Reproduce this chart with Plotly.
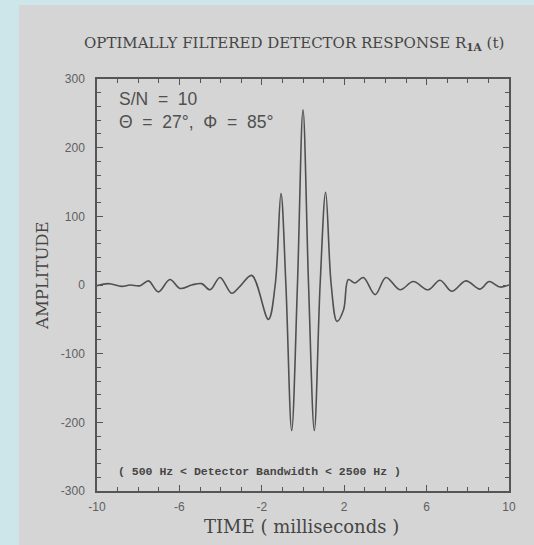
import plotly.graph_objects as go

# --- data ---
time_ms = [-10, -9.45, -8.8, -8.4, -7.9, -7.5, -7.02, -6.46, -5.97, -5.4, -4.92, -4.51,
           -4.03, -3.46, -3.06, -2.49, -1.68, -1.35, -1.07, -0.83, -0.55, -0.27, 0.0,
           0.27, 0.55, 0.83, 1.1, 1.37, 1.65, 1.97, 2.2, 2.52, 2.93, 3.5, 4.03, 4.71,
           5.35, 6.08, 6.65, 7.22, 7.91, 8.59, 9.04, 9.56, 10]
amplitude = [-1, 2, -2, 0, -1, 6, -10, 8, -5, 0, 2, -7,
             11, -12, -2, 14, -50, 0, 133, 0, -212, 0, 255,
             0, -212, 0, 135, 0, -53, -36, 8, 3, 11, -14, 11, -7,
             5, -7, 7, -9, 6, -6, 5, -3, 0]

x_tickvals = [-10, -6, -2, 2, 6, 10]
y_tickvals = [-300, -200, -100, 0, 100, 200, 300]

title_text = "OPTIMALLY FILTERED DETECTOR RESPONSE R<sub><b>1A</b></sub> (t)"
xlabel = "TIME ( milliseconds )"
ylabel = "AMPLITUDE"
note1 = "S/N\u00a0\u00a0=\u00a0\u00a010"
note2 = "\u0398\u00a0\u00a0=\u00a0\u00a027\u00b0,\u00a0\u00a0\u03a6\u00a0\u00a0=\u00a0\u00a085\u00b0"
note3 = "(\u00a0500\u00a0Hz\u00a0<\u00a0Detector\u00a0Bandwidth\u00a0<\u00a02500\u00a0Hz\u00a0)"

W, H = 534, 545
L, R, T, B = 97, 25, 79, 54
PW = W - L - R
PH = H - T - B

def px(x):
    return (x - L) / PW

def py(y):
    return (H - B - y) / PH

fig = go.Figure()
fig.add_trace(go.Scatter(x=time_ms, y=amplitude, mode="lines",
                         line=dict(color="#505050", width=1.6, shape="spline", smoothing=1.0),
                         hoverinfo="skip", showlegend=False))

axis_common = dict(showgrid=False, zeroline=False, showline=True, linecolor="#555555",
                   linewidth=1.5, ticks="inside", tickcolor="#555555", tickwidth=1.3,
                   ticklen=6, mirror="ticks",
                   tickfont=dict(family="Liberation Sans", size=12, color="#606060"))

fig.update_xaxes(range=[-10, 10], tickvals=x_tickvals, ticktext=[str(v) for v in x_tickvals],
                 ticklabelstandoff=4,
                 minor=dict(dtick=1, tick0=-10, ticks="inside", ticklen=4,
                            tickcolor="#555555", tickwidth=1.2),
                 **axis_common)
fig.update_yaxes(range=[-300, 300], tickvals=y_tickvals, ticktext=[str(v) for v in y_tickvals],
                 ticklabelstandoff=8,
                 minor=dict(dtick=20, tick0=0, ticks="inside", ticklen=4,
                            tickcolor="#555555", tickwidth=1.2),
                 **axis_common)

fig.add_shape(type="rect", xref="paper", yref="paper", layer="below",
              x0=px(19), x1=px(W + 5), y0=py(H + 5), y1=py(5),
              fillcolor="#d5d5d5", line=dict(width=0))

ann = []
ann.append(dict(text=title_text, x=px(294), y=py(44), xanchor="center", yanchor="middle",
                font=dict(family="DejaVu Serif", size=15, color="#454545")))
ann.append(dict(text=ylabel, x=px(42), y=py(276), xanchor="center", yanchor="middle",
                textangle=-90, font=dict(family="DejaVu Serif", size=16.5, color="#454545")))
ann.append(dict(text=xlabel, x=px(301), y=py(526), xanchor="center", yanchor="middle",
                font=dict(family="DejaVu Serif", size=18, color="#454545")))
ann.append(dict(text=note1, x=px(117), y=py(99), xanchor="left", yanchor="middle",
                font=dict(family="Liberation Sans", size=17.5, color="#505050")))
ann.append(dict(text=note2, x=px(117), y=py(122), xanchor="left", yanchor="middle",
                font=dict(family="Liberation Sans", size=17.5, color="#505050")))
ann.append(dict(text="<b>" + note3 + "</b>", x=px(116), y=py(471), xanchor="left", yanchor="middle",
                font=dict(family="Liberation Mono", size=11.5, color="#454545")))
for a in ann:
    a.update(xref="paper", yref="paper", showarrow=False)
fig.update_layout(annotations=ann)

fig.update_layout(width=W, height=H, margin=dict(l=L, r=R, t=T, b=B),
                  paper_bgcolor="#cde6ea", plot_bgcolor="rgba(0,0,0,0)",
                  showlegend=False)

fig.write_html("out.html")
